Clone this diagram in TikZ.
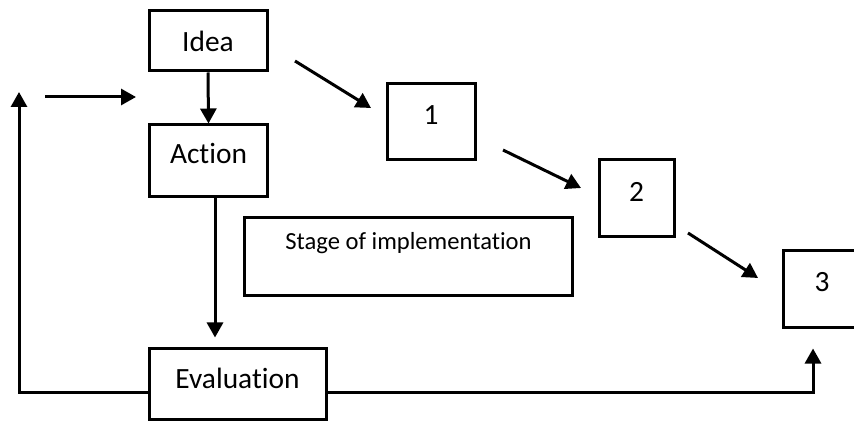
\documentclass[tikz,border=0pt]{standalone}
\usepackage{fontspec}
\setmainfont{Carlito}[Ligatures=NoCommon]
\usetikzlibrary{arrows.meta}

\tikzset{
  boite/.style={draw,line width=1.5pt,inner sep=0pt},
  fleche/.style={line width=1.5pt,-{Triangle[length=7.5pt,width=8pt]}},
}

\begin{document}
\begin{tikzpicture}[x=0.5pt,y=-0.5pt,every node/.style={font=\fontsize{14.7}{17}\selectfont}]
\useasboundingbox (0,0) rectangle (854,421);

% les boites
\node[boite,minimum width=59pt,minimum height=30pt] (idea) at (208,41) {};
\node[boite,minimum width=59pt,minimum height=36pt] (action) at (208.5,161) {};
\node[boite,minimum width=88.5pt,minimum height=35.5pt] (evaluation) at (237.5,383.5) {};
\node[boite,minimum width=164pt,minimum height=39pt] (stage) at (408.5,257) {};
\node[boite,minimum width=44pt,minimum height=38pt] (b1) at (431,122) {};
\node[boite,minimum width=37.5pt,minimum height=38.5pt] (b2) at (636.5,198.5) {};
\node[boite,minimum width=39pt,minimum height=38.5pt] (b3) at (822,289.5) {};

% les textes
\node (tidea) at (idea.center) {Idea};
\node (taction) at ([yshift=4pt]action.center) {Action};
\node (tevaluation) at ([yshift=2.7pt]evaluation.center) {Evaluation};
\node[font=\fontsize{12.3}{14}\selectfont] (tstage) at ([yshift=7pt]stage.center) {Stage of implementation};
\node (t1) at ([yshift=3.5pt]b1.center) {1};
\node (t2) at ([yshift=3.2pt]b2.center) {2};
\node (t3) at ([yshift=3.7pt]b3.center) {3};

% les fleches
\coordinate (g1) at (45,97);
\coordinate (g2) at (136,97);
\coordinate (d1) at (295,61);
\coordinate (d2) at (371,108);
\coordinate (e1) at (503,150);
\coordinate (e2) at (581,188);
\coordinate (f1) at (688,233);
\coordinate (f2) at (758,278);
\coordinate (boucle) at (19,392);

\draw[fleche] (idea.south) -- (action.north);
\draw[fleche,shorten >=4.5pt] ([xshift=3.25pt]action.south) -- ([xshift=3.25pt]action.south |- evaluation.north);
\draw[fleche] (g1) -- (g2);
\draw[fleche] (d1) -- (d2);
\draw[fleche] (e1) -- (e2);
\draw[fleche] (f1) -- (f2);
\draw[fleche] ([yshift=-4.25pt]evaluation.west) -- (boucle) -- ++(0,-300);
\draw[fleche,shorten >=9.5pt] ([yshift=-4.25pt]evaluation.east) -| ([xshift=-4.5pt]b3.south);

\end{tikzpicture}
\end{document}
